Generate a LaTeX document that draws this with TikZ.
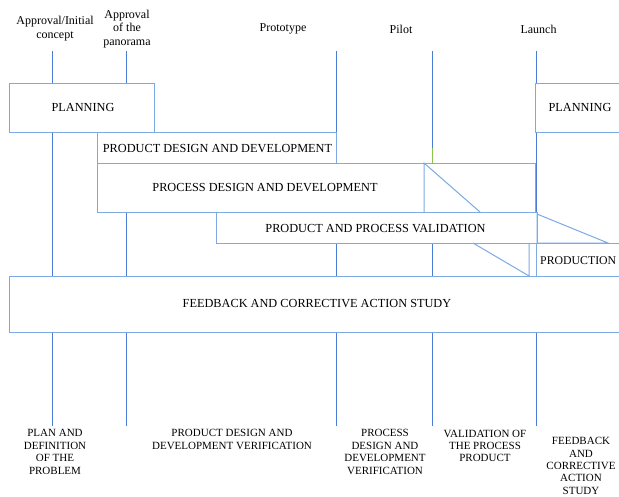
\documentclass[tikz,border=0pt]{standalone}
\usepackage{fontspec}
\setmainfont{Liberation Serif}
\definecolor{boxblue}{RGB}{125,170,228}
\definecolor{lineblue}{RGB}{75,125,215}
\definecolor{pilotgreen}{RGB}{140,195,80}
\begin{document}
\begin{tikzpicture}[x=1pt,y=-1pt,
  box/.style={draw=boxblue,line width=1pt,fill=white},
  tri/.style={draw=boxblue,line width=1pt},
  vline/.style={draw=lineblue,line width=1pt},
  boxtext/.style={inner sep=0pt,font=\fontsize{12.3}{14}\selectfont,align=center},
  toplabel/.style={inner sep=0pt,font=\fontsize{12}{13.8}\selectfont,align=center},
  botlabel/.style={inner sep=0pt,font=\fontsize{11}{12.4}\selectfont,align=center}]
\useasboundingbox (0,0) rectangle (619,496);
\clip (0,0) rectangle (619,496);
\fill[white] (0,0) rectangle (619,496);

% milestone lines
\foreach \x [count=\i] in {52,126,336,432,536} {
  \coordinate (t\i) at (\x,51);
  \coordinate (b\i) at (\x,426);
  \draw[vline] (t\i) -- (b\i);
}
\coordinate (g1) at (432,148);
\coordinate (g2) at (432,163);
\draw[draw=pilotgreen,line width=1pt] (g1) -- (g2);

% boxes
\path[box] (9,83) rectangle (154,132);
\path[box] (535,83) rectangle (640,132);
\path[box] (97,132) rectangle (336,163);
\path[box] (97,163) rectangle (535,212);
\path[box] (216,212) rectangle (537,243);
\path[box] (536,243) rectangle (640,276);
\path[box] (9,276) rectangle (640,332);

% triangles
\coordinate (p1) at (424,163);
\coordinate (p2) at (424,212);
\coordinate (p3) at (480,212);
\draw[tri] (p2) -- (p1) -- (p3);
\coordinate (v1) at (537,214);
\coordinate (v2) at (537,243);
\coordinate (v3) at (608,243);
\draw[tri] (v1) -- (v2) -- (v3) -- cycle;
\coordinate (w1) at (473,243);
\coordinate (w2) at (529,276);
\coordinate (w3) at (529,243);
\draw[tri] (w1) -- (w2) -- (w3);

% box texts
\node[boxtext] (planL) at (83,107) {PLANNING};
\node[boxtext] (planR) at (580,107) {PLANNING};
\node[boxtext] (pdd) at (217.5,149) {PRODUCT DESIGN AND DEVELOPMENT};
\node[boxtext] (prdd) at (265,188) {PROCESS DESIGN AND DEVELOPMENT};
\node[boxtext] (ppv) at (375.5,229) {PRODUCT AND PROCESS VALIDATION};
\node[boxtext,font=\fontsize{11.8}{14}\selectfont,anchor=west] (prod) at (540,261) {PRODUCTION};
\node[boxtext] (fb) at (317,304) {FEEDBACK AND CORRECTIVE ACTION STUDY};

% top labels
\node[toplabel] (l1) at (55,28.5) {Approval/Initial\\concept};
\node[toplabel] (l2) at (127,29) {Approval\\of the\\panorama};
\node[toplabel] (l3) at (283,29) {Prototype};
\node[toplabel] (l4) at (401,29) {Pilot};
\node[toplabel] (l5) at (538.5,29) {Launch};

% bottom labels
\node[botlabel] (d1) at (55,452) {PLAN AND\\DEFINITION\\OF THE\\PROBLEM};
\node[botlabel] (d2) at (232,439.5) {PRODUCT DESIGN AND\\DEVELOPMENT VERIFICATION};
\node[botlabel] (d3) at (385,452) {PROCESS\\DESIGN AND\\DEVELOPMENT\\VERIFICATION};
\node[botlabel] (d4) at (485,446) {VALIDATION OF\\THE PROCESS\\PRODUCT};
\node[botlabel] (d5) at (581,466) {FEEDBACK\\AND\\CORRECTIVE\\ACTION\\STUDY};
\end{tikzpicture}
\end{document}
